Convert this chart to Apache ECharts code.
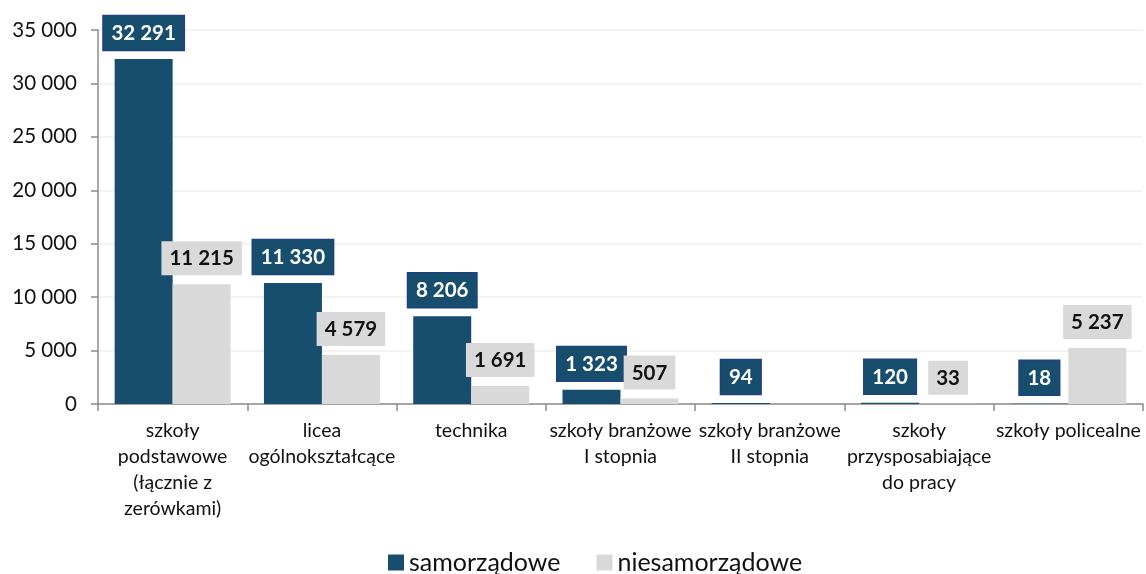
<!DOCTYPE html>
<html>
<head>
<meta charset="utf-8">
<script src="https://cdn.jsdelivr.net/npm/echarts@6/dist/echarts.min.js"></script>
<style>html,body{margin:0;padding:0;background:#fff}#c{width:1146px;height:574px}</style>
</head>
<body>
<div id="c"></div>
<script>
const categories = ["szkoły\npodstawowe\n(łącznie z\nzerówkami)", "licea\nogólnokształcące", "technika", "szkoły branżowe\nI stopnia", "szkoły branżowe\nII stopnia", "szkoły\nprzysposabiające\ndo pracy", "szkoły policealne"];
const samorzadowe = [32291, 11330, 8206, 1323, 94, 120, 18];
const niesamorzadowe = [11215, 4579, 1691, 507, null, 33, 5237];
const seriesNames = ["samorządowe", "niesamorządowe"];
const yTicks = {min: 0, max: 35000, interval: 5000};

const fmt = v => String(v).replace(/\B(?=(\d{3})+(?!\d))/g, ' ');
const FONT = 'Lato';

const chart = echarts.init(document.getElementById('c'), null, {renderer: 'canvas'});
chart.setOption({
  animation: false,
  textStyle: {fontFamily: FONT},
  grid: {left: 98, right: 3, top: 30, bottom: 170, containLabel: false},
  legend: {
    top: 545, left: 383,
    itemWidth: 16, itemHeight: 16, itemGap: 36,
    icon: 'rect',
    textStyle: {fontSize: 25, color: '#111', fontFamily: FONT},
    data: seriesNames
  },
  xAxis: {
    type: 'category',
    data: categories,
    axisLine: {lineStyle: {color: '#8c8c8c', width: 1.5}},
    axisTick: {show: true, length: 7, alignWithLabel: false, lineStyle: {color: '#8c8c8c', width: 1.5}},
    axisLabel: {fontSize: 19.5, color: '#111', lineHeight: 26, margin: 14, interval: 0, fontFamily: FONT}
  },
  yAxis: {
    type: 'value',
    min: yTicks.min, max: yTicks.max, interval: yTicks.interval,
    axisLine: {show: true, lineStyle: {color: '#8c8c8c', width: 1.5}},
    axisTick: {show: true, length: 7, inside: false, lineStyle: {color: '#8c8c8c', width: 1.5}},
    splitLine: {lineStyle: {color: '#efefef', width: 1.5}},
    axisLabel: {fontSize: 20.5, color: '#111', margin: 21, formatter: v => fmt(v), fontFamily: FONT}
  },
  series: [
    {
      name: seriesNames[0], type: 'bar', data: samorzadowe,
      barWidth: 58, barGap: '0%',
      itemStyle: {color: '#174e6e'},
      label: {
        show: true, position: 'top', distance: 9,
        formatter: p => fmt(p.value),
        fontSize: 20.5, fontWeight: 'bold', color: '#fff', fontFamily: FONT,
        backgroundColor: '#174e6e', borderColor: '#1f3f86', borderWidth: 1.2,
        padding: [7, 8, 6, 8]
      }
    },
    {
      name: seriesNames[1], type: 'bar', data: niesamorzadowe,
      barWidth: 58, barGap: '0%',
      itemStyle: {color: '#d9d9d9'},
      label: {
        show: true, position: 'top', distance: 9,
        formatter: p => fmt(p.value),
        fontSize: 20.5, fontWeight: 'bold', color: '#111', fontFamily: FONT,
        backgroundColor: '#d9d9d9',
        padding: [7, 8, 6, 8]
      }
    }
  ]
});
</script>
</body>
</html>
